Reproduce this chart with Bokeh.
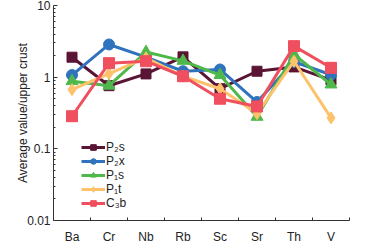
import numpy as np
from bokeh.plotting import figure
from bokeh.models import (Range1d, FixedTicker, CustomJSTickFormatter, Legend, LegendItem)
from bokeh.embed import file_html
from bokeh.resources import INLINE

# ---- data ----
elements = ["Ba", "Cr", "Nb", "Rb", "Sc", "Sr", "Th", "V"]
p2s = [1.90, 0.76, 1.11, 1.92, 0.69, 1.21, 1.39, 0.91]
p2x = [1.07, 2.86, 1.90, 1.21, 1.28, 0.45, 1.64, 1.08]
p1s = [0.88, 0.76, 2.24, 1.69, 1.07, 0.28, 2.07, 0.79]
p1t = [0.67, 1.12, 1.86, 1.03, 0.69, 0.31, 1.67, 0.27]
c3b = [0.285, 1.57, 1.67, 1.03, 0.50, 0.39, 2.71, 1.35]
series_names = ["P\u2082s", "P\u2082x", "P\u2081s", "P\u2081t", "C\u2083b"]
y_ticks = [0.01, 0.1, 1, 10]

series = [p2s, p2x, p1s, p1t, c3b]
colors = ["#5a1434", "#2f72bd", "#4fb84a", "#fdc26b", "#ef4f5e"]
markers = ["square", "circle", "triangle", "diamond", "square"]
sizes = [10, 11, 12, 12, 11]

FONT = "Liberation Sans"

n = len(elements)
centers = list(np.arange(n) + 0.5)
bounds = list(np.arange(n + 1).astype(float))
minor_y = [k * 10.0 ** e for e in range(-2, 1) for k in range(2, 10)]

p = figure(frame_width=296, frame_height=215, y_axis_type="log",
           x_range=Range1d(0, n), y_range=Range1d(y_ticks[0], y_ticks[-1]),
           output_backend="svg", toolbar_location=None,
           min_border_left=53, min_border_right=5, min_border_top=5, min_border_bottom=2)

p.grid.visible = False
p.outline_line_color = None
p.background_fill_color = "white"
p.border_fill_color = "white"

items = []
for name, vals, col, mk, sz in zip(series_names, series, colors, markers, sizes):
    lr = p.line(centers, vals, line_color=col, line_width=3)
    sr = p.scatter(centers, vals, marker=mk, size=sz, fill_color=col, line_color=col)
    items.append(LegendItem(label=name, renderers=[lr, sr]))

legend = Legend(items=items, location=(28, 10), padding=0, margin=0, spacing=0,
                glyph_width=24, glyph_height=14, label_height=14, label_standoff=1,
                border_line_color=None, background_fill_alpha=0,
                label_text_font=FONT, label_text_font_size="12px", label_text_color="#222222")
p.add_layout(legend)

# x axis: labels at category centres, ticks at category boundaries
xa = p.xaxis[0]
xa.ticker = FixedTicker(ticks=centers, minor_ticks=bounds)
xa.formatter = CustomJSTickFormatter(args=dict(names=elements),
                                     code="return names[Math.round(tick - 0.5)];")
xa.major_tick_line_color = None
xa.minor_tick_in = 3
xa.minor_tick_out = 0
xa.minor_tick_line_color = "#333333"
xa.axis_line_color = "#333333"
xa.major_label_text_font = FONT
xa.major_label_text_font_size = "12px"
xa.major_label_text_color = "#222222"
xa.major_label_standoff = 3

ya = p.yaxis[0]
ya.ticker = FixedTicker(ticks=y_ticks, minor_ticks=minor_y)
ya.formatter = CustomJSTickFormatter(code="return String(tick);")
ya.major_tick_in = 4
ya.major_tick_out = 0
ya.minor_tick_in = 2
ya.minor_tick_out = 0
ya.major_tick_line_color = "#333333"
ya.minor_tick_line_color = "#333333"
ya.axis_line_color = "#333333"
ya.major_label_text_font = FONT
ya.major_label_text_font_size = "12px"
ya.major_label_text_color = "#222222"
ya.major_label_standoff = 3
ya.axis_label = "Average value/upper crust"
ya.axis_label_text_font = FONT
ya.axis_label_text_font_size = "12px"
ya.axis_label_text_font_style = "normal"
ya.axis_label_text_color = "#222222"
ya.axis_label_standoff = -6

open("out.html", "w").write(file_html(p, INLINE))
